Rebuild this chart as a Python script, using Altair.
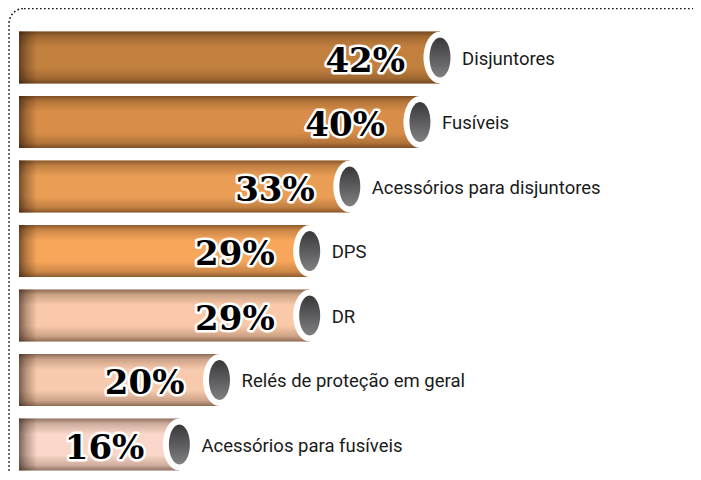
import altair as alt
import pandas as pd

categories = ["Disjuntores", "Fusíveis", "Acessórios para disjuntores", "DPS", "DR",
              "Relés de proteção em geral", "Acessórios para fusíveis"]
values = [42, 40, 33, 29, 29, 20, 16]
bar_colors = ["#C2803F", "#D88E48", "#EA9E55", "#F7A65A", "#F9C9A9", "#F8CAAD", "#FAD7C8"]

df = pd.DataFrame({"cat": categories, "value": values})

W, H = 685, 464
xs = alt.Scale(domain=[0, 42], range=[11, 432])
ys = alt.Scale(domain=categories, range=[17.25, 468.75], paddingInner=0.1938, paddingOuter=0.0969)

X = alt.X("value:Q", scale=xs, axis=None)
Y = alt.Y("cat:N", scale=ys, axis=None, sort=categories)
base = alt.Chart(df)

grad_v = {"gradient": "linear", "x1": 0, "x2": 0, "y1": 0, "y2": 1,
          "stops": [{"offset": 0, "color": "rgba(45,22,5,0.52)"},
                    {"offset": 0.10, "color": "rgba(45,22,5,0.22)"},
                    {"offset": 0.30, "color": "rgba(45,22,5,0.0)"},
                    {"offset": 0.70, "color": "rgba(45,22,5,0.0)"},
                    {"offset": 0.90, "color": "rgba(45,22,5,0.22)"},
                    {"offset": 1, "color": "rgba(45,22,5,0.52)"}]}
grad_h = {"gradient": "linear", "x1": 0, "x2": 1, "y1": 0, "y2": 0,
          "stops": [{"offset": 0, "color": "rgba(40,20,10,0.60)"},
                    {"offset": 0.4, "color": "rgba(40,20,10,0.30)"},
                    {"offset": 1, "color": "rgba(40,20,10,0.0)"}]}
grad_cap = {"gradient": "linear", "x1": 0, "x2": 0, "y1": 0, "y2": 1,
            "stops": [{"offset": 0, "color": "#38383a"},
                      {"offset": 1, "color": "#808082"}]}

border = alt.Chart(pd.DataFrame({"a": [0]})).mark_rect(
    filled=False, stroke="#111111", strokeDash=[1.6, 2.4], strokeWidth=1.6, cornerRadius=15
).encode(x=alt.value(1), y=alt.value(0.5), x2=alt.value(1000), y2=alt.value(1000))

bars = base.mark_bar().encode(
    x=X, y=Y,
    color=alt.Color("cat:N", scale=alt.Scale(domain=categories, range=bar_colors), legend=None),
)
shade_v = base.mark_bar(fill=grad_v).encode(x=X, y=Y)
shade_h = base.mark_bar(fill=grad_h).encode(
    x=alt.X(datum=0, type="quantitative", scale=xs, axis=None), x2=alt.X2(datum=1.8), y=Y
)

white_path = "M0,-1A0.635,1 0 1,1 0,1A0.635,1 0 1,1 0,-1Z"
dark_path = "M0,-1A0.525,1 0 1,1 0,1A0.525,1 0 1,1 0,-1Z"
cap_white = base.mark_point(shape=white_path, size=2704, filled=True, fill="white",
                            opacity=1, strokeWidth=0).encode(x=X, y=Y)
cap_dark = base.mark_point(shape=dark_path, size=1600, filled=True, fill=grad_cap,
                           opacity=1, strokeWidth=0).encode(x=X, y=Y)

pct = base.transform_calculate(label="datum.value + '%'")
pct_outline = pct.mark_text(align="right", baseline="alphabetic", dx=-35, dy=14,
                            font="DejaVu Serif", fontWeight="bold", fontSize=34,
                            color="white", stroke="white", strokeWidth=5, strokeJoin="round"
                            ).encode(x=X, y=Y, text="label:N")
pct_text = pct.mark_text(align="right", baseline="alphabetic", dx=-35, dy=14,
                         font="DejaVu Serif", fontWeight="bold", fontSize=34,
                         color="black").encode(x=X, y=Y, text="label:N")

cat_text = base.mark_text(align="left", baseline="alphabetic", dx=22, dy=7,
                          font="Roboto", fontSize=18.5, color="#1a1a1a").encode(
    x=X, y=Y, text="cat:N")

chart = alt.layer(border, bars, shade_v, shade_h, cap_white, cap_dark,
                  pct_outline, pct_text, cat_text).properties(
    width=W, height=H, padding=0, autosize=alt.AutoSizeParams(type="none")
).configure_view(strokeWidth=0)

chart.save("out.html", embed_options={"renderer": "svg", "actions": False})
